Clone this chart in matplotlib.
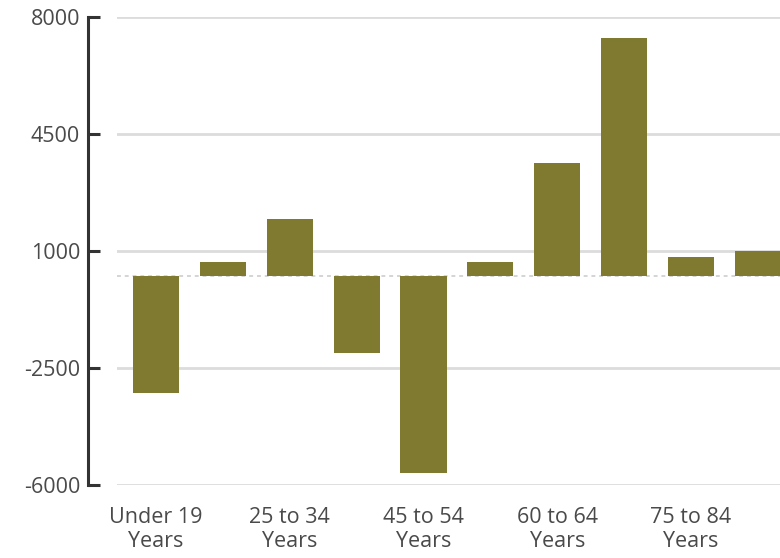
import matplotlib
matplotlib.use("Agg")
import matplotlib.pyplot as plt
import numpy as np

# Age groups (every other one is labelled on the axis)
categories = [
    "Under 19 Years", "20 to 24 Years", "25 to 34 Years", "35 to 44 Years",
    "45 to 54 Years", "55 to 59 Years", "60 to 64 Years", "65 to 74 Years",
    "75 to 84 Years", "85 Years and Over",
]
tick_labels = ["Under 19\nYears", "", "25 to 34\nYears", "", "45 to 54\nYears",
               "", "60 to 64\nYears", "", "75 to 84\nYears", ""]
# Bar end values on the axis scale
values = [-3250, 670, 1950, -2060, -5650, 670, 3640, 7360, 830, 980]
# Level the bars grow from
baseline = 250
y_ticks = [-6000, -2500, 1000, 4500, 8000]

bar_color = "#7f7a2f"
grid_color = "#dcdcdc"
text_color = "#4a4a4a"

plt.rcParams["font.family"] = ["Open Sans", "DejaVu Sans"]

fig = plt.figure(figsize=(7.8, 5.58), dpi=100)
ax = fig.add_axes([0.15, 0.131, 0.85, 0.839])

x = np.arange(len(categories))
heights = [v - baseline for v in values]
ax.bar(x, heights, bottom=baseline, width=0.69, color=bar_color, zorder=3)

ax.set_xlim(-0.583, 9.33)
ax.set_ylim(-6000, 8000)

for t in y_ticks:
    ax.axhline(t, color=grid_color, lw=2.0, zorder=1)
ax.axhline(baseline, color="#d4d4d4", lw=1.4, ls=(0, (2, 2)), zorder=2)

for side in ("top", "right", "bottom"):
    ax.spines[side].set_visible(False)
ax.spines["left"].set_position(("outward", 21))
ax.spines["left"].set_color("#333333")
ax.spines["left"].set_linewidth(2.2)
ax.spines["left"].set_bounds(-6000, 8000)

ax.tick_params(axis="y", direction="in", length=8.5, width=2.2, color="#333333",
               pad=5.5, labelsize=15.5, labelcolor=text_color)
ax.tick_params(axis="x", length=0, pad=16, labelsize=15.5, labelcolor=text_color)

ax.set_yticks(y_ticks)
ax.set_yticklabels([str(t) for t in y_ticks])
ax.set_xticks(x)
ax.set_xticklabels(tick_labels, linespacing=1.15)

fig.savefig("out.png", dpi=100, facecolor="white")
